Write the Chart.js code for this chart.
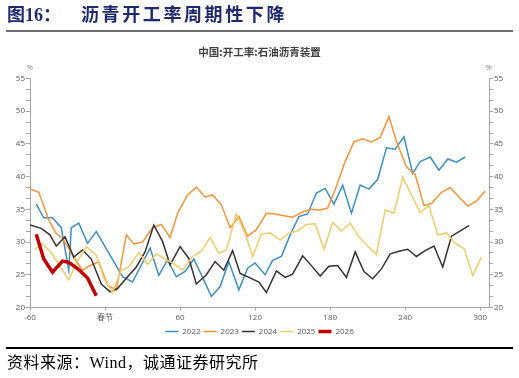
<!DOCTYPE html>
<html>
<head>
<meta charset="utf-8">
<script src="https://cdn.jsdelivr.net/npm/chart.js@4/dist/chart.umd.min.js"></script>
<style>
html,body{margin:0;padding:0;background:#fff;}
body{width:519px;height:378px;position:relative;overflow:hidden;}
#chartBox{position:absolute;left:0;top:0;width:519px;height:378px;}
.hdr{position:absolute;top:4px;font-family:"Liberation Serif","Noto Sans CJK SC",serif;font-weight:bold;font-size:18px;line-height:22px;color:#1f2a6e;white-space:nowrap;}
#hdr2{letter-spacing:2.6px;}
.rule{position:absolute;left:6px;width:507px;}
#foot{position:absolute;left:7px;top:352px;font-family:"Liberation Serif","Noto Sans CJK SC",serif;font-size:16px;line-height:22px;color:#000;white-space:nowrap;letter-spacing:0.5px;}
</style>
</head>
<body>
<div id="chartBox"><canvas id="c" width="519" height="378"></canvas></div>
<div class="hdr" id="hdr1" style="left:7px;">图16：</div>
<div class="hdr" id="hdr2" style="left:81px;">沥青开工率周期性下降</div>
<div class="rule" style="top:30px;height:2px;background:#6e6e6e;"></div>
<div class="rule" style="top:347px;height:1.5px;background:#000;"></div>
<div id="foot">资料来源：Wind，诚通证券研究所</div>
<script>
// ---- data (days relative to Spring Festival, operating rate %) ----
const seriesNames = ['2022', '2023', '2024', '2025', '2026'];
const xTickValues = [-60, 0, 60, 120, 180, 240, 300];
const springFestivalLabel = '春节';
const yTickLabels = [20, 25, 30, 35, 40, 45, 50, 55];

const x2022 = [-55,-49,-42,-35,-29,-27,-21,-14,-7,14,22,36,43,50,57,64,71,77,85,92,99,107,114,120,128,134,141,148,155,162,169,176,183,190,197,204,211,218,225,232,239,246,252,260,267,274,281,288];
const v2022 = [35.8,33.7,33.7,32.2,25.7,32.2,32.9,29.8,31.6,24.7,23.9,29.1,24.9,27.3,24.7,25.5,27.4,25.0,21.7,23.2,27.0,22.7,26.0,26.8,25.0,27.2,27.8,31.1,33.9,34.3,37.5,38.2,35.8,38.7,34.4,38.7,38.1,39.6,44.4,44.2,46.1,40.5,42.3,43.0,41.0,42.7,42.2,43.0];

const x2023 = [-60,-53,-45,-39,-34,-27,-22,-18,-11,-5,2,9,17,23,30,38,45,52,58,66,73,80,86,93,100,107,114,121,129,136,144,150,158,165,172,178,184,192,199,206,213,220,227,233,241,248,255,261,269,276,283,290,297,304];
const v2023 = [38.1,37.6,33.4,31.3,30.6,28.3,26.8,25.7,26.5,27.0,23.4,22.7,31.1,29.7,30.0,32.2,32.7,30.7,34.4,37.2,38.4,36.9,37.2,35.7,32.2,33.9,30.9,31.9,34.4,34.3,34.0,33.8,34.6,35.0,34.9,35.2,38.0,42.3,45.3,45.8,45.3,46.0,49.2,45.4,41.5,40.3,35.6,35.9,37.6,38.3,36.9,35.5,36.3,37.8];

const x2024 = [-60,-51,-44,-39,-32,-25,-18,-11,-3,4,10,18,25,32,39,46,52,60,67,73,81,88,95,102,108,115,123,129,137,144,150,158,165,172,179,186,193,200,207,214,221,228,235,242,249,256,263,270,277,284,291];
const v2024 = [32.6,32.1,31.1,29.4,30.8,27.7,28.8,27.4,23.6,22.4,22.9,24.7,26.2,28.5,32.6,30.1,26.5,29.3,27.5,23.6,25.0,27.0,25.7,28.7,25.2,24.6,23.9,22.3,25.6,24.6,25.1,27.9,26.4,24.8,26.3,26.4,24.6,28.5,25.5,24.4,25.9,28.2,28.6,28.9,27.8,28.7,29.4,26.2,30.9,31.7,32.5];

const x2025 = [-56,-50,-43,-35,-29,-22,-15,-7,-1,6,13,19,27,34,41,49,55,62,70,77,84,91,97,105,112,118,125,132,140,147,154,161,168,175,182,189,196,203,210,217,224,231,238,245,252,259,266,273,280,287,294,301];
const v2025 = [28.9,29.7,28.4,26.0,24.2,27.1,29.3,28.0,24.5,22.3,25.7,26.2,28.4,26.6,28.2,27.3,26.7,25.7,27.8,28.6,30.7,28.3,28.8,34.3,31.3,27.8,31.2,31.4,30.3,31.4,31.7,32.7,32.8,28.9,33.0,31.7,32.9,30.8,29.4,28.1,34.9,34.4,39.9,37.2,34.5,35.6,31.1,31.4,29.8,29.0,24.9,27.7];

const x2026 = [-55,-49,-42,-34,-29,-21,-14,-7];
const v2026 = [31.2,27.4,25.4,27.1,26.9,25.8,24.5,21.8];

// ---- styles ----
const seriesX = [x2022, x2023, x2024, x2025, x2026];
const seriesV = [v2022, v2023, v2024, v2025, v2026];
const seriesColors = ['#3d8fc2', '#f7943a', '#3b3131', '#f1cc6a', '#c00000'];
const seriesWidths = [1.5, 1.5, 1.5, 1.5, 3.5];
const axisColor = '#a6a6a6';
const tickColor = '#595959';
const sans = '"Open Sans","Noto Sans CJK SC",sans-serif';

const datasets = seriesNames.map((name, i) => ({
  label: name,
  data: seriesX[i].map((x, k) => ({x: x, y: seriesV[i][k]})),
  borderColor: seriesColors[i],
  backgroundColor: seriesColors[i],
  borderWidth: seriesWidths[i],
  pointRadius: 0,
  tension: 0,
  fill: false,
  order: -i
}));

function yTicksBuilder(scale) {
  const out = [];
  for (let k = 0; k < yTickLabels.length; k++) {
    out.push({value: yTickLabels[k]});
    if (k < yTickLabels.length - 1) {
      const step = (yTickLabels[k + 1] - yTickLabels[k]) / 3;
      out.push({value: yTickLabels[k] + step});
      out.push({value: yTickLabels[k] + 2 * step});
    }
  }
  scale.ticks = out;
}
function yLabel(v) {
  return yTickLabels.some(t => Math.abs(t - v) < 1e-6) ? String(v) : '';
}
function yAxis(pos) {
  return {
    type: 'linear', position: pos, min: 20, max: 55,
    afterBuildTicks: yTicksBuilder,
    afterFit: s => { s.width = 30; },
    ticks: {callback: yLabel, font: {size: 8, family: sans}, color: tickColor, padding: 1, autoSkip: false},
    grid: {display: true, drawOnChartArea: false, drawTicks: true, tickLength: 4, color: axisColor, lineWidth: 1},
    border: {display: true, color: axisColor, width: 1}
  };
}

const percentPlugin = {
  id: 'percentLabels',
  afterDraw(chart) {
    const ctx = chart.ctx, a = chart.chartArea;
    ctx.save();
    ctx.font = '7px ' + sans;
    ctx.fillStyle = '#7f7f7f';
    ctx.textAlign = 'center';
    ctx.textBaseline = 'middle';
    ctx.fillText('%', a.left, a.top - 11);
    ctx.fillText('%', a.right, a.top - 11);
    ctx.restore();
  }
};

new Chart(document.getElementById('c'), {
  type: 'line',
  data: {datasets: datasets},
  options: {
    responsive: false,
    animation: false,
    layout: {padding: {top: 38, bottom: 32.5, left: 0, right: 0}},
    scales: {
      x: {
        type: 'linear', min: -60, max: 307,
        afterBuildTicks: s => { s.ticks = xTickValues.map(v => ({value: v})); },
        afterFit: s => { s.height = 17; },
        ticks: {callback: v => (v === 0 ? springFestivalLabel : String(v)), font: {size: 8, family: sans}, color: tickColor, padding: 2, maxRotation: 0, autoSkip: false},
        grid: {display: true, drawOnChartArea: false, drawTicks: true, tickLength: 3, color: axisColor, lineWidth: 1},
        border: {display: true, color: axisColor, width: 1}
      },
      y: yAxis('left'),
      y2: yAxis('right')
    },
    plugins: {
      title: {
        display: true,
        text: '中国:开工率:石油沥青装置',
        color: '#404040',
        font: {size: 10.5, weight: 'bold', family: '"Noto Sans CJK SC",sans-serif'},
        padding: {top: 7.7, bottom: 20.2}
      },
      legend: {
        display: true,
        position: 'bottom',
        labels: {
          usePointStyle: true,
          pointStyle: 'line',
          pointStyleWidth: 13,
          font: {size: 8, family: sans},
          color: tickColor,
          padding: 3,
          sort: (a, b) => a.datasetIndex - b.datasetIndex
        }
      },
      tooltip: {enabled: false}
    }
  },
  plugins: [percentPlugin]
});
</script>
</body>
</html>
